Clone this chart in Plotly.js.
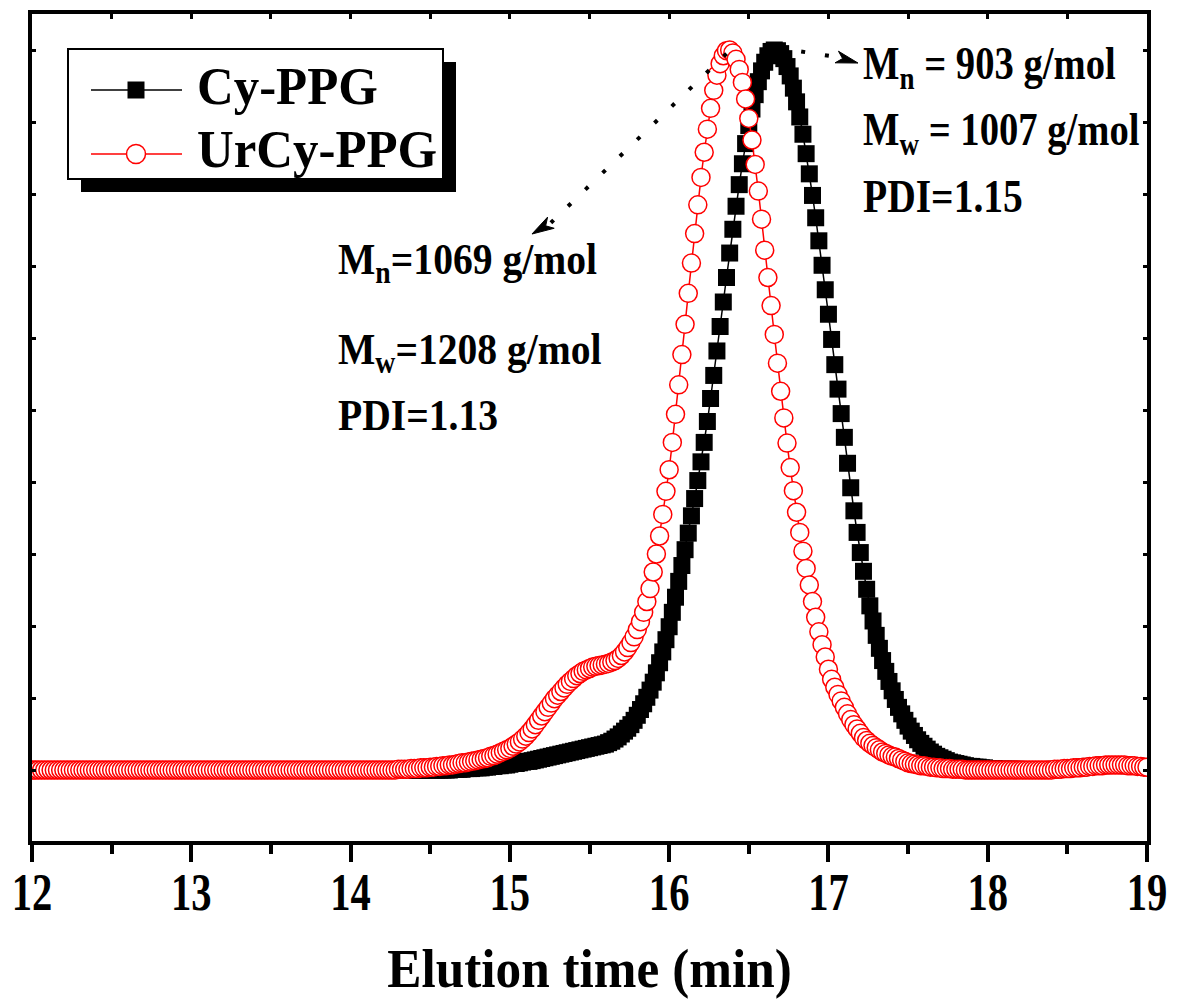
<!DOCTYPE html>
<html>
<head>
<meta charset="utf-8">
<script src="https://cdn.plot.ly/plotly-3.0.1.min.js"></script>
<style>
  html, body { margin: 0; padding: 0; background: #fff; }
  #chart { width: 1177px; height: 1003px; }
</style>
</head>
<body>
<div id="chart"></div>
<script>
// Elution time grid: first sample and sampling step (min)
const startTime = 12;
const timeStep = 0.02;

const seriesNames = ['Cy-PPG', 'UrCy-PPG'];
const xTickRange = [12, 19];

// Cy-PPG normalised RI signal, one value per 0.02 min from 12.00 to 19.00
const cyPPG = [
  0,0,0,0,0,0,0,0,0,0,
  0,0,0,0,0,0,0,0,0,0,
  0,0,0,0,0,0,0,0,0,0,
  0,0,0,0,0,0,0,0,0,0,
  0,0,0,0,0,0,0,0,0,0,
  0,0,0,0,0,0,0,0,0,0,
  0,0,0,0,0,0,0,0,0,0,
  0,0,0,0,0,0,0,0,0,0,
  0,0,0,0,0,0,0,0,0,0,
  0,0,0,0,0,0,0,0,0,0,
  0,0,0,0,0,0,0,0,0,0,
  0,0,0,0,0,0,0,0,0,0,
  0,0,0,0,0,0,0,0,0,0,
  0,0,0.001,0.001,0.001,0.001,0.002,0.002,0.002,0.003,
  0.003,0.003,0.004,0.004,0.005,0.005,0.006,0.006,0.007,0.007,
  0.008,0.009,0.009,0.010,0.011,0.012,0.012,0.013,0.014,0.015,
  0.016,0.017,0.018,0.019,0.020,0.021,0.022,0.023,0.024,0.025,
  0.026,0.027,0.028,0.029,0.030,0.031,0.032,0.033,0.034,0.035,
  0.036,0.038,0.040,0.043,0.046,0.050,0.054,0.058,0.063,0.069,
  0.076,0.084,0.092,0.101,0.111,0.122,0.135,0.149,0.164,0.181,
  0.199,0.219,0.240,0.262,0.284,0.306,0.329,0.353,0.377,0.402,
  0.428,0.455,0.484,0.516,0.548,0.582,0.616,0.650,0.684,0.718,
  0.751,0.783,0.813,0.842,0.870,0.895,0.918,0.938,0.956,0.971,
  0.983,0.992,0.998,1.000,0.999,0.995,0.988,0.977,0.964,0.947,
  0.928,0.907,0.883,0.856,0.828,0.798,0.767,0.735,0.701,0.667,
  0.633,0.598,0.563,0.529,0.495,0.462,0.426,0.392,0.360,0.330,
  0.302,0.276,0.251,0.228,0.207,0.187,0.169,0.152,0.137,0.123,
  0.110,0.098,0.087,0.078,0.069,0.061,0.054,0.048,0.042,0.037,
  0.033,0.029,0.025,0.022,0.019,0.017,0.015,0.013,0.011,0.010,
  0.009,0.008,0.007,0.006,0.005,0.005,0.004,0.004,0.003,0.003,
  0.002,0.002,0.002,0.001,0.001,0.001,0.001,0.001,0.001,0.001,
  0,0,0,0,0,0,0,0,0,0,
  0,0.001,0.001,0.001,0.002,0.002,0.002,0.003,0.003,0.003,
  0.004,0.004,0.005,0.005,0.006,0.006,0.006,0.007,0.007,0.007,
  0.007,0.007,0.007,0.007,0.006,0.006,0.006,0.005,0.005,0.004,
  0.004
];

// UrCy-PPG normalised RI signal, one value per 0.02 min from 12.00 to 19.00
const urCyPPG = [
  0,0,0,0,0,0,0,0,0,0,
  0,0,0,0,0,0,0,0,0,0,
  0,0,0,0,0,0,0,0,0,0,
  0,0,0,0,0,0,0,0,0,0,
  0,0,0,0,0,0,0,0,0,0,
  0,0,0,0,0,0,0,0,0,0,
  0,0,0,0,0,0,0,0,0,0,
  0,0,0,0,0,0,0,0,0,0,
  0,0,0,0,0,0,0,0,0,0,
  0,0,0,0,0,0,0,0,0,0,
  0,0,0,0,0,0,0,0,0,0,
  0,0,0,0,0,0.001,0.001,0.001,0.001,0.002,
  0.002,0.002,0.003,0.003,0.003,0.004,0.004,0.005,0.005,0.006,
  0.006,0.007,0.007,0.008,0.009,0.010,0.010,0.011,0.012,0.013,
  0.014,0.015,0.016,0.017,0.019,0.020,0.022,0.024,0.026,0.028,
  0.030,0.033,0.036,0.039,0.043,0.047,0.052,0.057,0.063,0.069,
  0.075,0.081,0.087,0.093,0.099,0.104,0.109,0.114,0.119,0.123,
  0.127,0.131,0.134,0.137,0.139,0.141,0.143,0.144,0.145,0.146,
  0.147,0.148,0.150,0.152,0.155,0.159,0.164,0.170,0.177,0.185,
  0.195,0.206,0.219,0.234,0.252,0.275,0.300,0.325,0.355,0.387,
  0.417,0.455,0.494,0.535,0.577,0.619,0.662,0.704,0.745,0.785,
  0.823,0.858,0.890,0.919,0.944,0.965,0.981,0.992,0.999,1.000,
  0.996,0.987,0.973,0.955,0.932,0.905,0.875,0.841,0.804,0.765,
  0.722,0.684,0.645,0.605,0.565,0.526,0.489,0.454,0.420,0.388,
  0.358,0.330,0.304,0.280,0.257,0.234,0.212,0.192,0.174,0.157,
  0.140,0.126,0.115,0.105,0.096,0.087,0.078,0.070,0.063,0.057,
  0.051,0.045,0.041,0.037,0.034,0.031,0.028,0.025,0.023,0.021,
  0.019,0.018,0.016,0.014,0.012,0.010,0.009,0.008,0.007,0.006,
  0.006,0.005,0.004,0.004,0.003,0.003,0.002,0.002,0.002,0.001,
  0.001,0.001,0.001,0,0,0,0,0,0,0,
  0,0,0,0,0,0,0,0,0,0,
  0,0,0,0,0,0,0,0,0,0,
  0,0.001,0.001,0.001,0.002,0.002,0.002,0.003,0.003,0.003,
  0.004,0.004,0.005,0.005,0.006,0.006,0.006,0.007,0.007,0.007,
  0.007,0.007,0.007,0.007,0.006,0.006,0.006,0.005,0.005,0.004,
  0.004
];

// Molecular weight annotations
const cyLabels = ['M<sub>n</sub> = 903 g/mol', 'M<sub>w</sub> = 1007 g/mol', 'PDI=1.15'];
const urLabels = ['M<sub>n</sub>=1069 g/mol', 'M<sub>w</sub>=1208 g/mol', 'PDI=1.13'];
const xTitle = 'Elution time (min)';

const FONT = 'Liberation Serif, "Times New Roman", Times, serif';
const RED = '#ff0000';

// pixel -> paper helpers (plot area spans x 32..1147, y 14..841)
const PX = p => (p - 32) / 1115;
const PY = p => (841 - p) / 827;

const traces = [
  {
    type: 'scatter', mode: 'lines+markers', name: seriesNames[0], showlegend: false,
    x0: startTime, dx: timeStep, y: cyPPG,
    line: { color: '#000000', width: 1.5 },
    marker: { symbol: 'square', size: 17, color: '#000000', line: { width: 0 } }
  },
  {
    type: 'scatter', mode: 'lines+markers', name: seriesNames[1], showlegend: false,
    x0: startTime, dx: timeStep, y: urCyPPG,
    line: { color: RED, width: 1.5 },
    marker: { symbol: 'circle', size: 18, color: '#ffffff', line: { color: RED, width: 1.5 } }
  },
  { type: 'scatter', x: [], y: [], xaxis: 'x2', yaxis: 'y', showlegend: false, hoverinfo: 'skip' }
];

function label(text, x, y, size) {
  return { text: text, x: x, y: y, xref: 'x', yref: 'y', xanchor: 'left', yanchor: 'middle', align: 'left',
           showarrow: false, font: { family: FONT, size: size, color: '#000', weight: 700 } };
}
function legendLabel(text, py) {
  return { text: text, x: PX(195), y: PY(py), xref: 'paper', yref: 'paper', xanchor: 'left', yanchor: 'middle',
           align: 'left', showarrow: false, font: { family: FONT, size: 53, color: '#000', weight: 700 } };
}

const annotations = [
  label(cyLabels[0], 17.204, 0.9768, 46),
  label(cyLabels[1], 17.204, 0.8847, 46),
  label(cyLabels[2], 17.204, 0.7972, 46),
  label(urLabels[0], 13.91, 0.7049, 44),
  label(urLabels[1], 13.91, 0.5799, 44),
  label(urLabels[2], 13.91, 0.4917, 44),
  legendLabel(seriesNames[0], 85.5),
  legendLabel(seriesNames[1], 149)
];
// horizontal squeeze applied to each annotation after drawing (reference font is condensed)
const annSqueeze = [0.84, 0.84, 0.86, 0.90, 0.90, 0.90, 0.96, 0.96];

const shapes = [
  // legend frame with drop shadow
  { type: 'rect', xref: 'paper', yref: 'paper', x0: PX(81), x1: PX(456), y0: PY(192), y1: PY(62),
    fillcolor: '#000', line: { width: 0 }, layer: 'above' },
  { type: 'rect', xref: 'paper', yref: 'paper', x0: PX(68), x1: PX(443), y0: PY(179), y1: PY(49),
    fillcolor: '#fff', line: { color: '#000', width: 2 }, layer: 'above' },
  // legend symbols
  { type: 'line', xref: 'paper', yref: 'paper', x0: PX(91), x1: PX(182), y0: PY(90), y1: PY(90),
    line: { color: '#000', width: 1.5 }, layer: 'above' },
  { type: 'rect', xref: 'paper', yref: 'paper', xsizemode: 'pixel', ysizemode: 'pixel',
    xanchor: PX(136), yanchor: PY(90), x0: -8.5, x1: 8.5, y0: -8.5, y1: 8.5,
    fillcolor: '#000', line: { width: 0 }, layer: 'above' },
  { type: 'line', xref: 'paper', yref: 'paper', x0: PX(91), x1: PX(182), y0: PY(154), y1: PY(154),
    line: { color: RED, width: 1.5 }, layer: 'above' },
  { type: 'circle', xref: 'paper', yref: 'paper', xsizemode: 'pixel', ysizemode: 'pixel',
    xanchor: PX(136), yanchor: PY(154), x0: -9.5, x1: 9.5, y0: -9.5, y1: 9.5,
    fillcolor: '#fff', line: { color: RED, width: 1.5 }, layer: 'above' },
  // dotted leader lines with arrow heads
  { type: 'line', xref: 'x', yref: 'y', x0: 16.36, y0: 0.995, x1: 15.2576, y1: 0.7601,
    line: { color: '#000', width: 4, dash: '4px,20px' }, layer: 'above' },
  { type: 'path', xref: 'x', yref: 'y',
    path: 'M15.1389,0.7444 L15.2783,0.7524 L15.2249,0.7558 L15.2369,0.7679 Z',
    fillcolor: '#000', line: { color: '#000', width: 1 }, layer: 'above' },
  { type: 'line', xref: 'x', yref: 'y', x0: 16.68, y0: 1.003, x1: 17.0523, y1: 0.9903,
    line: { color: '#000', width: 4, dash: '4px,20px' }, layer: 'above' },
  { type: 'path', xref: 'x', yref: 'y',
    path: 'M17.1855,0.9819 L17.0417,0.9822 L17.0888,0.9881 L17.0631,0.9983 Z',
    fillcolor: '#000', line: { color: '#000', width: 1 }, layer: 'above' }
];

const layout = {
  width: 1177, height: 1003,
  margin: { l: 32, r: 30, t: 14, b: 162, pad: 0 },
  paper_bgcolor: '#ffffff', plot_bgcolor: '#ffffff',
  font: { family: FONT, color: '#000' },
  showlegend: false,
  xaxis: {
    range: xTickRange, tick0: 12, dtick: 1,
    ticks: 'outside', ticklen: 17, tickwidth: 4, tickcolor: '#000',
    showline: true, linewidth: 4, linecolor: '#000', mirror: true,
    showgrid: false, zeroline: false,
    minor: { tick0: 12, dtick: 0.5, ticks: 'outside', ticklen: 9, tickwidth: 4, tickcolor: '#000', showgrid: false },
    tickfont: { family: FONT, size: 52, color: '#000', weight: 700 },
    ticklabelstandoff: -14,
    title: { text: xTitle, font: { family: FONT, size: 54, color: '#000', weight: 700 }, standoff: 30 }
  },
  xaxis2: {
    overlaying: 'x', side: 'top', range: xTickRange, tick0: 12, dtick: 0.5,
    ticks: 'inside', ticklen: 5, tickwidth: 3, tickcolor: '#000',
    showticklabels: false, showline: false, showgrid: false, zeroline: false
  },
  yaxis: {
    range: [-0.0986, 1.05], tick0: 0, dtick: 0.1,
    ticks: 'inside', ticklen: 4, tickwidth: 3, tickcolor: '#000',
    showticklabels: false, showline: true, linewidth: 4, linecolor: '#000', mirror: 'ticks',
    showgrid: false, zeroline: false
  },
  annotations: annotations,
  shapes: shapes
};

// condense a drawn text horizontally around its start (or centre) using an SVG transform
function squeeze(el, factor, anchorStart) {
  if (!el || typeof el.getBBox !== 'function') return;
  const bb = el.getBBox();
  if (!(bb.width > 0)) return;
  const cx = anchorStart ? bb.x : bb.x + bb.width / 2;
  const prev = el.getAttribute('transform') || '';
  el.setAttribute('transform',
    (prev + ' translate(' + cx.toFixed(2) + ',0) scale(' + factor + ',1) translate(' + (-cx).toFixed(2) + ',0)').trim());
}

Plotly.newPlot('chart', traces, layout, { displayModeBar: false, staticPlot: true }).then(gd => {
  gd.querySelectorAll('g.annotation').forEach(g => {
    const i = +g.getAttribute('data-index');
    squeeze(g.querySelector('text.annotation-text'), annSqueeze[i] || 1, true);
  });
  gd.querySelectorAll('g.xtick > text').forEach(t => squeeze(t, 0.78, false));
  squeeze(gd.querySelector('text.xtitle'), 0.95, false);
  // drop empty placeholder texts that Plotly leaves for unused titles
  gd.querySelectorAll('text').forEach(t => { if (t.textContent.trim() === '') t.remove(); });
});
</script>
</body>
</html>
